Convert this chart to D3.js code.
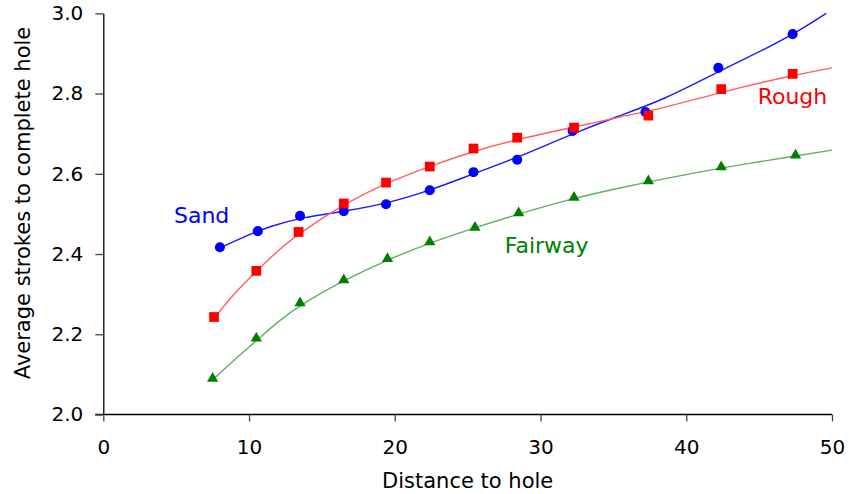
<!DOCTYPE html>
<html>
<head>
<meta charset="utf-8">
<script src="https://cdn.jsdelivr.net/npm/d3@7"></script>
<style>
  html, body { margin: 0; padding: 0; background: #fff; }
  svg { display: block; font-family: "DejaVu Sans", Verdana, sans-serif; }
</style>
</head>
<body>
<svg id="chart" width="849" height="494"></svg>
<script>
// ---- data ----
const xTicks = [0, 10, 20, 30, 40, 50];
const yTicks = [2.0, 2.2, 2.4, 2.6, 2.8, 3.0];

const sandDist = [8.0, 10.6, 13.5, 16.5, 19.4, 22.4, 25.4, 28.4, 32.2, 37.2, 42.2, 47.3];
const sandAvg  = [2.417, 2.457, 2.495, 2.507, 2.524, 2.559, 2.604, 2.635, 2.707, 2.754, 2.864, 2.948];

const roughDist = [7.6, 10.5, 13.4, 16.5, 19.4, 22.4, 25.4, 28.4, 32.3, 37.4, 42.4, 47.3];
const roughAvg  = [2.243, 2.358, 2.455, 2.526, 2.578, 2.618, 2.663, 2.690, 2.715, 2.745, 2.811, 2.849];

const fairwayDist = [7.5, 10.5, 13.5, 16.5, 19.5, 22.4, 25.5, 28.5, 32.3, 37.4, 42.4, 47.5];
const fairwayAvg  = [2.090, 2.190, 2.278, 2.335, 2.388, 2.430, 2.466, 2.502, 2.541, 2.582, 2.617, 2.646];

// fitted trend curves
const sandFitDist = [8.07, 9.5, 11.5, 13.5, 16.5, 19.5, 22.4, 25.4, 28.4, 32.2, 35.2, 38.5, 42.2, 45.5, 48.0, 49.6];
const sandFitAvg  = [2.416, 2.441, 2.470, 2.490, 2.506, 2.526, 2.558, 2.600, 2.640, 2.700, 2.742, 2.785, 2.855, 2.912, 2.962, 3.0];

const roughFitDist = [7.68, 9.0, 10.54, 12.0, 13.47, 16.48, 19.45, 22.43, 25.45, 28.42, 32.26, 35.46, 38.5, 42.32, 47.35, 50.0];
const roughFitAvg  = [2.243, 2.303, 2.358, 2.410, 2.452, 2.524, 2.578, 2.619, 2.657, 2.686, 2.716, 2.742, 2.764, 2.803, 2.846, 2.864];

const fairwayFitDist = [7.52, 9.0, 10.54, 12.0, 13.47, 16.48, 19.45, 22.43, 25.45, 28.42, 32.26, 35.46, 38.5, 42.41, 47.46, 50.0];
const fairwayFitAvg  = [2.087, 2.137, 2.185, 2.232, 2.272, 2.334, 2.385, 2.428, 2.465, 2.499, 2.539, 2.565, 2.588, 2.615, 2.644, 2.659];

const seriesNames = ["Sand", "Rough", "Fairway"];
const labelDist = [4.85, 44.9, 27.55];
const labelAvg  = [2.477, 2.774, 2.402];

const xTitle = "Distance to hole";
const yTitle = "Average strokes to complete hole";

// ---- layout ----
const svg = d3.select("#chart");
const plotL = 103.3, plotR = 832, plotT = 13.3, plotB = 414.5;

const x = d3.scaleLinear().domain([0, 50]).range([plotL, plotR]);
const y = d3.scaleLinear().domain([2.0, 3.0]).range([plotB, plotT]);

// axes
const xAxis = d3.axisBottom(x).tickValues(xTicks).tickFormat(d3.format("d"))
  .tickSize(7).tickPadding(18).tickSizeOuter(0);
const yAxis = d3.axisLeft(y).tickValues(yTicks).tickFormat(d3.format(".1f"))
  .tickSize(8).tickPadding(12).tickSizeOuter(0);

const gx = svg.append("g").attr("transform", `translate(0,${plotB})`).call(xAxis);
const gy = svg.append("g").attr("transform", `translate(${plotL},0)`).call(yAxis);
[gx, gy].forEach(g => {
  g.select(".domain").attr("stroke", "#000").attr("stroke-width", 1.3);
  g.selectAll(".tick line").attr("stroke", "#444").attr("stroke-width", 1.3);
  g.selectAll(".tick text").attr("fill", "#000").style("font-size", "20px")
    .style("font-family", "DejaVu Sans, Verdana, sans-serif");
});
gx.select(".domain").attr("d", `M${plotL - 8},0H${plotR}`);

svg.append("text")
  .attr("x", (plotL + plotR) / 2).attr("y", 488)
  .attr("text-anchor", "middle").style("font-size", "21px").attr("fill", "#000")
  .text(xTitle);

svg.append("text")
  .attr("transform", `translate(30,${203}) rotate(-90)`)
  .attr("text-anchor", "middle").style("font-size", "21px").attr("fill", "#000")
  .text(yTitle);

// ---- series ----
const series = [
  { dist: sandDist, avg: sandAvg, fd: sandFitDist, fa: sandFitAvg,
    mark: "#0000ff", line: "#1a1aff", symbol: d3.symbolCircle, size: 80, lab: "#0000ff" },
  { dist: roughDist, avg: roughAvg, fd: roughFitDist, fa: roughFitAvg,
    mark: "#ff0000", line: "#ff6060", symbol: d3.symbolSquare, size: 95, lab: "#ff0000" },
  { dist: fairwayDist, avg: fairwayAvg, fd: fairwayFitDist, fa: fairwayFitAvg,
    mark: "#008000", line: "#5fb05f", symbol: d3.symbolTriangle, size: 55, lab: "#008000" }
];

const lineGen = d3.line().curve(d3.curveBasis)
  .x(d => x(d[0])).y(d => y(d[1]));

series.forEach(s => {
  const pts = s.fd.map((d, i) => [d, s.fa[i]]);
  svg.append("path").datum(pts)
    .attr("d", lineGen).attr("fill", "none")
    .attr("stroke", s.line).attr("stroke-width", 1.4);
});

series.forEach(s => {
  svg.append("g").selectAll("path")
    .data(s.dist.map((d, i) => [d, s.avg[i]]))
    .join("path")
    .attr("d", d3.symbol().type(s.symbol).size(s.size))
    .attr("transform", d => `translate(${x(d[0])},${y(d[1])})`)
    .attr("fill", s.mark);
});

series.forEach((s, i) => {
  svg.append("text")
    .attr("x", x(labelDist[i])).attr("y", y(labelAvg[i]))
    .style("font-size", "22px").attr("fill", s.lab)
    .text(seriesNames[i]);
});
</script>
</body>
</html>
